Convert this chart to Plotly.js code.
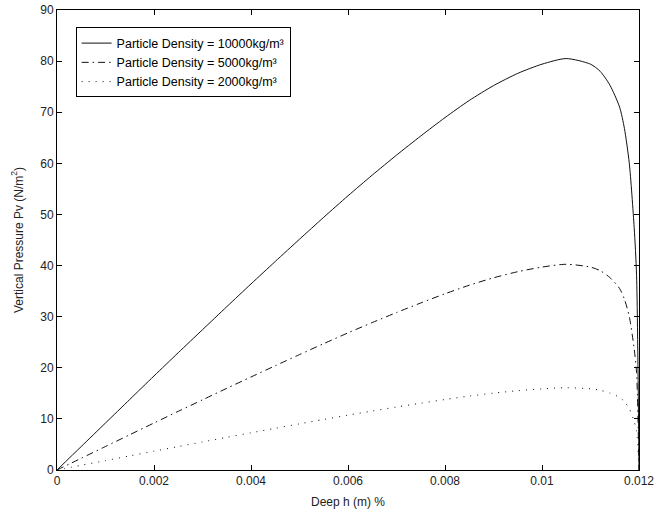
<!DOCTYPE html>
<html>
<head>
<meta charset="utf-8">
<script src="https://cdn.plot.ly/plotly-3.0.1.min.js"></script>
<style>html,body{margin:0;padding:0;background:#fff;}#chart{width:657px;height:514px;}</style>
</head>
<body>
<div id="chart"></div>
<script>
// Depth h (m)
var depth = [0, 0.0005, 0.001, 0.0015, 0.002, 0.0025, 0.003, 0.0035, 0.004, 0.0045, 0.005, 0.0055, 0.006, 0.0065, 0.007, 0.0075, 0.008, 0.0085, 0.009, 0.0095, 0.01, 0.0105, 0.011, 0.0112, 0.0114, 0.0116, 0.0117, 0.0118, 0.0119, 0.01195, 0.012];
// Vertical pressure Pv (N/m2) for each particle density
var p10000 = [0, 4.6, 9.2, 13.8, 18.4, 22.95, 27.45, 31.95, 36.4, 40.8, 45.15, 49.45, 53.65, 57.7, 61.6, 65.35, 68.95, 72.3, 75.2, 77.6, 79.4, 80.5, 79.4, 78.0, 75.3, 71.0, 66.8, 60.0, 47.5, 38.0, 0];
var p5000  = [0, 2.3, 4.6, 6.9, 9.2, 11.48, 13.73, 15.98, 18.2, 20.4, 22.58, 24.73, 26.83, 28.85, 30.8, 32.68, 34.48, 36.15, 37.6, 38.8, 39.7, 40.25, 39.7, 39.0, 37.65, 35.5, 33.4, 30.0, 23.75, 19.0, 0];
var p2000  = [0, 0.92, 1.84, 2.76, 3.68, 4.59, 5.49, 6.39, 7.28, 8.16, 9.03, 9.89, 10.73, 11.54, 12.32, 13.07, 13.79, 14.46, 15.04, 15.52, 15.88, 16.1, 15.88, 15.6, 15.06, 14.2, 13.36, 12.0, 9.5, 7.6, 0];
var names = ['Particle Density = 10000kg/m³', 'Particle Density = 5000kg/m³', 'Particle Density = 2000kg/m³'];
var xTicks = [0, 0.002, 0.004, 0.006, 0.008, 0.01, 0.012];
var xTickText = ['0', '0.002', '0.004', '0.006', '0.008', '0.01', '0.012'];
var yTicks = [0, 10, 20, 30, 40, 50, 60, 70, 80, 90];

var F = 'Liberation Sans, Arial, Helvetica, sans-serif';
var traces = [
  {x: depth, y: p10000, name: names[0], mode: 'lines', line: {color: '#111', width: 1, shape: 'spline', smoothing: 0.7}},
  {x: depth, y: p5000, name: names[1], mode: 'lines', line: {color: '#111', width: 1, dash: '7px,4px,1.5px,4px', shape: 'spline', smoothing: 0.7}},
  {x: depth, y: p2000, name: names[2], mode: 'lines', line: {color: '#111', width: 1, dash: '1px,6px', shape: 'spline', smoothing: 0.7}}
];
var axisCommon = {
  showline: true, linecolor: '#000', linewidth: 1, mirror: 'allticks',
  ticks: 'inside', ticklen: 5, tickcolor: '#000', tickwidth: 1,
  showgrid: false, zeroline: false,
  tickfont: {family: F, size: 12, color: '#222'}
};
var layout = {
  width: 657, height: 514,
  margin: {l: 57, r: 18, t: 10, b: 44},
  paper_bgcolor: '#fff', plot_bgcolor: '#fff',
  showlegend: true,
  legend: {x: 0.032, y: 0.962, xanchor: 'left', yanchor: 'top', bordercolor: '#000', borderwidth: 1,
           bgcolor: '#fff', font: {family: F, size: 12.5, color: '#000'}, tracegroupgap: 0},
  xaxis: Object.assign({}, axisCommon, {
    range: [0, 0.012], tickvals: xTicks, ticktext: xTickText,
    title: {text: 'Deep h (m) %', font: {family: F, size: 12, color: '#222'}, standoff: 10}
  }),
  yaxis: Object.assign({}, axisCommon, {
    range: [0, 90], tickvals: yTicks,
    title: {text: 'Vertical Pressure Pv (N/m<sup>2</sup>)', font: {family: F, size: 12, color: '#222'}, standoff: 14}
  })
};
Plotly.newPlot('chart', traces, layout, {displayModeBar: false, staticPlot: true});
</script>
</body>
</html>
